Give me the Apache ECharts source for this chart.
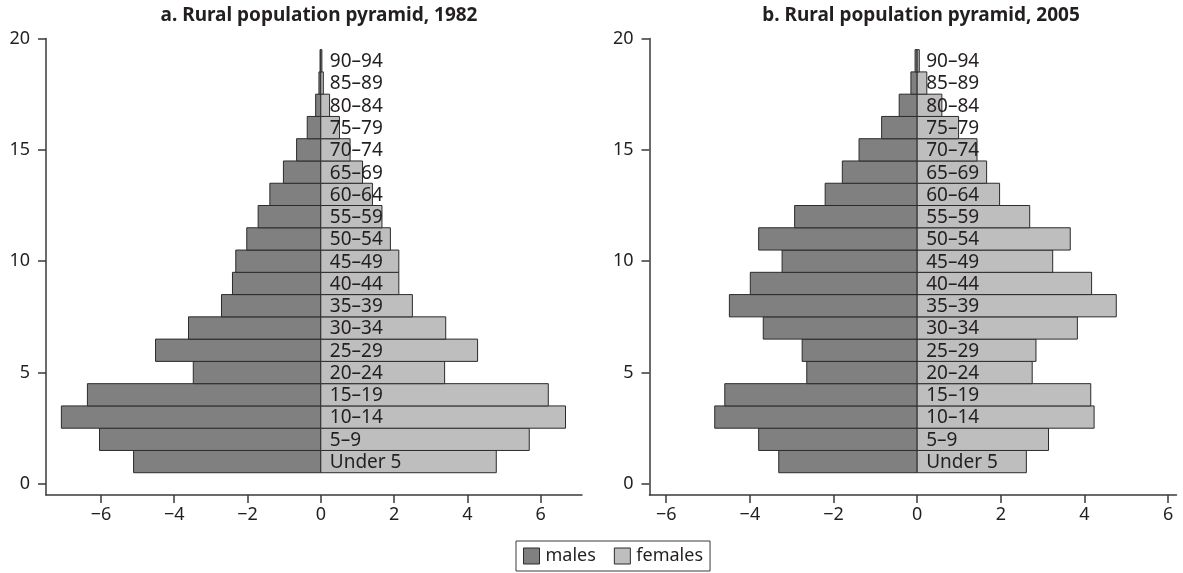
<!DOCTYPE html>
<html lang="en">
<head>
<meta charset="UTF-8">
<title>Rural population pyramids</title>
<script src="https://cdn.jsdelivr.net/npm/echarts@6/dist/echarts.min.js"></script>
<style>
  html, body { margin: 0; padding: 0; background: #fff; }
  #chart { width: 1183px; height: 573px; }
</style>
</head>
<body>
<div id="chart"></div>
<script>
// age groups, bottom to top
const ageGroups = ['Under 5', '5–9', '10–14', '15–19', '20–24', '25–29', '30–34', '35–39', '40–44',
  '45–49', '50–54', '55–59', '60–64', '65–69', '70–74', '75–79', '80–84', '85–89', '90–94'];

// percent of rural population (males drawn to the left)
const males1982 = [-5.11, -6.04, -7.08, -6.37, -3.48, -4.51, -3.61, -2.71, -2.41, -2.32, -2.02, -1.71,
  -1.39, -1.02, -0.66, -0.37, -0.14, -0.05, -0.02];
const females1982 = [4.79, 5.69, 6.68, 6.21, 3.38, 4.28, 3.41, 2.50, 2.13, 2.13, 1.90, 1.67,
  1.41, 1.14, 0.80, 0.51, 0.24, 0.07, 0.03];
const males2005 = [-3.31, -3.79, -4.84, -4.60, -2.64, -2.75, -3.68, -4.49, -3.99, -3.23, -3.79, -2.93,
  -2.20, -1.79, -1.39, -0.85, -0.43, -0.15, -0.05];
const females2005 = [2.61, 3.14, 4.23, 4.15, 2.75, 2.84, 3.83, 4.76, 4.17, 3.24, 3.66, 2.69,
  1.97, 1.66, 1.43, 0.99, 0.59, 0.23, 0.05];

const xTicks = [-6, -4, -2, 0, 2, 4, 6];
const yTicks = [0, 5, 10, 15, 20];
const titles = ['a. Rural population pyramid, 1982', 'b. Rural population pyramid, 2005'];

const FONT = '"Noto Sans", sans-serif';
const INK = '#231f20';
const MALE = '#808080';
const FEMALE = '#bebebe';
const EDGE = '#2b2b2b';

const chart = echarts.init(document.getElementById('chart'), null, { renderer: 'canvas' });

// each age group sits at y = index + 1, one unit tall
function rows(values) {
  return values.map((v, i) => [v, i + 1]);
}

function barItem(color) {
  return function (params, api) {
    const v = api.value(0), y = api.value(1);
    const a = api.coord([0, y - 0.5]);
    const b = api.coord([v, y + 0.5]);
    return {
      type: 'rect',
      shape: {
        x: Math.min(a[0], b[0]), y: Math.min(a[1], b[1]),
        width: Math.abs(b[0] - a[0]), height: Math.abs(b[1] - a[1])
      },
      style: { fill: color, stroke: EDGE, lineWidth: 1 }
    };
  };
}

function labelItem(params, api) {
  const p = api.coord([0, api.value(1)]);
  return {
    type: 'text',
    x: p[0] + 9, y: p[1] + 1,
    style: {
      text: ageGroups[params.dataIndex],
      fill: INK, font: '19px ' + FONT,
      textAlign: 'left', textVerticalAlign: 'middle'
    },
    z2: 10
  };
}

function xAxis(gridIndex, min, max) {
  return {
    type: 'value', gridIndex, min, max,
    axisLine: { show: true, onZero: false, lineStyle: { color: '#3a3a3a', width: 1.5 } },
    axisTick: { show: true, length: 8, customValues: xTicks, lineStyle: { color: '#3a3a3a', width: 1.5 } },
    axisLabel: {
      customValues: xTicks, margin: 11, color: INK, fontSize: 18, fontFamily: FONT,
      formatter: v => String(v).replace('-', '\u2212')
    },
    splitLine: { show: false }
  };
}

function yAxis(gridIndex) {
  return {
    type: 'value', gridIndex, min: -0.5, max: 20,
    axisLine: { show: true, onZero: false, lineStyle: { color: '#3a3a3a', width: 1.5 } },
    axisTick: { show: true, length: 8, customValues: yTicks, lineStyle: { color: '#3a3a3a', width: 1.5 } },
    axisLabel: { customValues: yTicks, margin: 16, color: INK, fontSize: 18, fontFamily: FONT },
    splitLine: { show: false }
  };
}

const panels = [
  { males: males1982, females: females1982 },
  { males: males2005, females: females2005 }
];

const series = [];
panels.forEach((p, k) => {
  series.push({
    name: 'males', type: 'custom', xAxisIndex: k, yAxisIndex: k,
    renderItem: barItem(MALE), data: rows(p.males),
    itemStyle: { color: MALE }, encode: { x: 0, y: 1 }, silent: true
  });
  series.push({
    name: 'females', type: 'custom', xAxisIndex: k, yAxisIndex: k,
    renderItem: barItem(FEMALE), data: rows(p.females),
    itemStyle: { color: FEMALE }, encode: { x: 0, y: 1 }, silent: true
  });
  series.push({
    name: 'labels', type: 'custom', xAxisIndex: k, yAxisIndex: k, z: 5,
    renderItem: labelItem, data: rows(p.females), encode: { x: 0, y: 1 }, silent: true
  });
});

chart.setOption({
  backgroundColor: '#fff',
  animation: false,
  title: [
    { text: titles[0], left: 314, top: 1, textAlign: 'center',
      textStyle: { fontSize: 19, fontWeight: 'bold', color: INK, fontFamily: FONT } },
    { text: titles[1], left: 916, top: 1, textAlign: 'center',
      textStyle: { fontSize: 19, fontWeight: 'bold', color: INK, fontFamily: FONT } }
  ],
  grid: [
    { left: 46, top: 38.5, width: 536, height: 456.5 },
    { left: 649.5, top: 38.5, width: 527, height: 456.5 }
  ],
  xAxis: [xAxis(0, -7.5, 7.13), xAxis(1, -6.4, 6.2)],
  yAxis: [yAxis(0), yAxis(1)],
  legend: {
    data: ['males', 'females'],
    left: 516, top: 541,
    padding: [6, 7],
    itemGap: 18, itemWidth: 16, itemHeight: 16,
    icon: 'rect',
    borderColor: '#3a3a3a', borderWidth: 1,
    itemStyle: { borderColor: EDGE, borderWidth: 1 },
    textStyle: { color: INK, fontSize: 18, fontFamily: FONT, padding: [0, 0, 0, 1] },
    selectedMode: false
  },
  series
});
</script>
</body>
</html>
